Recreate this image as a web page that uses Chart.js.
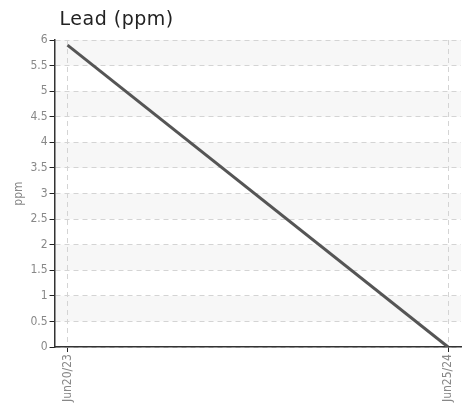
<!DOCTYPE html>
<html>
<head>
<meta charset="utf-8">
<script src="https://cdn.jsdelivr.net/npm/chart.js@4/dist/chart.umd.min.js"></script>
<style>
  body { margin: 0; background: #fff; }
  #wrap { width: 469px; height: 413px; }
</style>
</head>
<body>
<div id="wrap"><canvas id="myChart"></canvas></div>
<script>
const dateLabels = ['Jun20/23', 'Jun25/24'];
const leadValues = [5.9, 0];
const yTicks = [0, 0.5, 1, 1.5, 2, 2.5, 3, 3.5, 4, 4.5, 5, 5.5, 6];

const tickFont = { family: '"DejaVu Sans Condensed", "Roboto Condensed", "Liberation Sans Narrow", Roboto, sans-serif', size: 12 };

// grey bands between every other half-step, drawn under the grid
const bandPlugin = {
  id: 'bands',
  beforeDraw(chart) {
    const { ctx, chartArea, scales } = chart;
    const y = scales.y;
    ctx.save();
    ctx.fillStyle = '#f7f7f7';
    for (let v = 6; v > 0; v -= 1) {
      const top = y.getPixelForValue(v);
      const bottom = y.getPixelForValue(v - 0.5);
      ctx.fillRect(chartArea.left, top, chartArea.right - chartArea.left, bottom - top);
    }
    ctx.restore();
  }
};

const titlePlugin = {
  id: 'leftTitle',
  afterDraw(chart) {
    const { ctx, chartArea } = chart;
    ctx.save();
    ctx.font = '19px "DejaVu Sans"';
    ctx.letterSpacing = '0.5px';
    ctx.fillStyle = '#222';
    ctx.textBaseline = 'alphabetic';
    ctx.fillText('Lead (ppm)', chartArea.left + 5, 25);
    ctx.restore();
  }
};

let chartCanvas = document.getElementById('myChart');

new Chart(chartCanvas, {
  type: 'line',
  data: {
    datasets: [{
      label: 'Lead',
      data: leadValues.map((v, i) => ({ x: i, y: v })),
      borderColor: '#555',
      borderWidth: 3,
      pointRadius: 0,
      tension: 0
    }]
  },
  options: {
    responsive: true,
    maintainAspectRatio: false,
    animation: false,
    layout: { padding: { top: 40, right: 8, left: 12, bottom: 9 } },
    plugins: {
      legend: { display: false },
      tooltip: { enabled: false }
    },
    scales: {
      x: {
        type: 'linear',
        min: -0.034,
        max: 1.034,
        afterBuildTicks(axis) {
          axis.ticks = dateLabels.map((l, i) => ({ value: i }));
        },
        ticks: {
          callback: (value) => dateLabels[value],
          color: '#888',
          font: tickFont,
          maxRotation: 90,
          minRotation: 90,
          padding: 2
        },
        grid: {
          color: '#d4d4d4',
          tickColor: '#222',
          tickBorderDash: [],
          tickLength: 5
        },
        border: { color: '#333', width: 1.5, dash: [5, 4] }
      },
      y: {
        min: 0,
        max: 6,
        afterBuildTicks(axis) {
          axis.ticks = yTicks.map(v => ({ value: v }));
        },
        title: {
          display: true,
          text: 'ppm',
          color: '#888',
          font: { family: tickFont.family, size: 12 },
          padding: { top: 0, bottom: 2 }
        },
        ticks: {
          callback: (value) => String(value),
          color: '#888',
          font: tickFont,
          padding: 2
        },
        grid: {
          color: '#d4d4d4',
          tickColor: '#222',
          tickBorderDash: [],
          tickLength: 5
        },
        border: { color: '#333', width: 1.5, dash: [5, 4] }
      }
    }
  },
  plugins: [bandPlugin, titlePlugin]
});
</script>
</body>
</html>
